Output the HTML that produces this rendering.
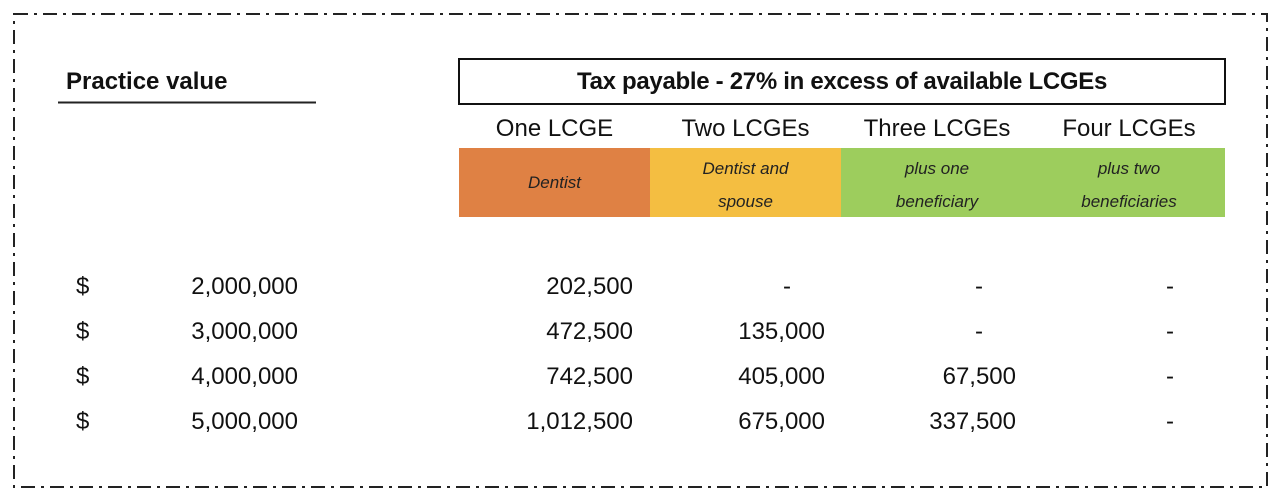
<!DOCTYPE html>
<html><head><style>
body{margin:0;width:1284px;height:504px;background:#fff;position:relative;overflow:hidden;font-family:"Liberation Sans",sans-serif;color:#111}
.t{position:absolute;white-space:nowrap;line-height:1}
.r{text-align:right}
.c{text-align:center}
.d{font-size:24px}
.i{font-style:italic;font-size:17px;color:#222}
</style></head><body>
<svg width="1284" height="504" style="position:absolute;left:0;top:0">
<rect x="14" y="14" width="1253" height="473" fill="none" stroke="#222" stroke-width="2" stroke-dasharray="14 6 3 6"/>
<rect x="459" y="59" width="766" height="45" fill="none" stroke="#111" stroke-width="2"/>
<line x1="58" y1="102.5" x2="316" y2="102.5" stroke="#222" stroke-width="2"/>
<rect x="459" y="148" width="191" height="69" fill="#df8144"/>
<rect x="650" y="148" width="191" height="69" fill="#f4be41"/>
<rect x="841" y="148" width="384" height="69" fill="#9dcd5d"/>
</svg>
<div class="t" style="left:66px;top:70px;font-size:24px;font-weight:bold">Practice value</div>
<div class="t c" style="left:459px;width:766px;top:70px;font-size:24px;font-weight:bold;letter-spacing:-0.3px">Tax payable - 27% in excess of available LCGEs</div>
<div class="t c d" style="left:459px;width:191px;top:117px">One LCGE</div>
<div class="t c d" style="left:650px;width:191px;top:117px">Two LCGEs</div>
<div class="t c d" style="left:841px;width:192px;top:117px">Three LCGEs</div>
<div class="t c d" style="left:1033px;width:192px;top:117px">Four LCGEs</div>
<div class="t c i" style="left:459px;width:191px;top:174px">Dentist</div>
<div class="t c i" style="left:650px;width:191px;top:152px;line-height:33px">Dentist and<br>spouse</div>
<div class="t c i" style="left:841px;width:192px;top:152px;line-height:33px">plus one<br>beneficiary</div>
<div class="t c i" style="left:1033px;width:192px;top:152px;line-height:33px">plus two<br>beneficiaries</div>

<div class="t d" style="left:76px;top:275px">$</div>
<div class="t d" style="left:76px;top:320px">$</div>
<div class="t d" style="left:76px;top:365px">$</div>
<div class="t d" style="left:76px;top:410px">$</div>
<div class="t d r" style="left:100px;width:198px;top:275px">2,000,000</div>
<div class="t d r" style="left:100px;width:198px;top:320px">3,000,000</div>
<div class="t d r" style="left:100px;width:198px;top:365px">4,000,000</div>
<div class="t d r" style="left:100px;width:198px;top:410px">5,000,000</div>

<div class="t d r" style="left:433px;width:200px;top:275px">202,500</div>
<div class="t d r" style="left:433px;width:200px;top:320px">472,500</div>
<div class="t d r" style="left:433px;width:200px;top:365px">742,500</div>
<div class="t d r" style="left:433px;width:200px;top:410px">1,012,500</div>

<div class="t d c" style="left:767px;width:40px;top:275px">-</div>
<div class="t d r" style="left:625px;width:200px;top:320px">135,000</div>
<div class="t d r" style="left:625px;width:200px;top:365px">405,000</div>
<div class="t d r" style="left:625px;width:200px;top:410px">675,000</div>

<div class="t d c" style="left:959px;width:40px;top:275px">-</div>
<div class="t d c" style="left:959px;width:40px;top:320px">-</div>
<div class="t d r" style="left:816px;width:200px;top:365px">67,500</div>
<div class="t d r" style="left:816px;width:200px;top:410px">337,500</div>

<div class="t d c" style="left:1150px;width:40px;top:275px">-</div>
<div class="t d c" style="left:1150px;width:40px;top:320px">-</div>
<div class="t d c" style="left:1150px;width:40px;top:365px">-</div>
<div class="t d c" style="left:1150px;width:40px;top:410px">-</div>
</body></html>
